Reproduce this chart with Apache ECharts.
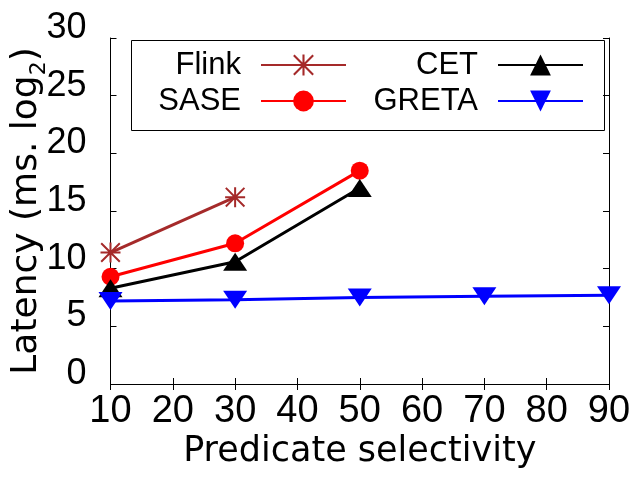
<!DOCTYPE html>
<html lang="en">
<head>
    <meta charset="UTF-8">
    <script src="https://cdn.jsdelivr.net/npm/echarts@6/dist/echarts.min.js"></script>
    <title>Latency vs predicate selectivity</title>
    <style>
        html, body { margin: 0; padding: 0; background: #fff; }
    </style>
</head>
<body>
<div id="main" style="width: 640px;height: 480px"></div>
<script type="text/javascript">
    // selectivity values on the x axis
    var selectivity = [10, 30, 50, 70, 90];

    // latency (ms, log2) per approach
    var flink = [11.4, 16.2];
    var sase = [9.3, 12.2, 18.5];
    var cet = [8.3, 10.6, 17.0];
    var greta = [7.2, 7.3, 7.5, 7.6, 7.7];

    var yTicks = {min: 0, max: 30, interval: 5};
    var xTicks = {min: 10, max: 90, interval: 10};

    // pair x values with a series
    function pairs(values) {
        return values.map(function (v, i) {
            return [selectivity[i], v];
        });
    }

    var starPath = 'path://M9 0H11V20H9Z M0 9H20V11H0Z ' +
        'M1.4 0L20 18.6L18.6 20L0 1.4Z M18.6 0L20 1.4L1.4 20L0 18.6Z';
    var downTriangle = 'path://M0 0L20 0L10 17Z';

    var labelFont = 'Liberation Sans';
    var titleFont = 'DejaVu Sans';

    var myChart = echarts.init(document.getElementById("main"));

    var hiddenAxis = {
        axisLine: {lineStyle: {color: '#000', width: 1}},
        axisTick: {inside: true, length: 6, lineStyle: {color: '#000'}},
        axisLabel: {show: false},
        splitLine: {show: false}
    };

    var legendText = {fontFamily: labelFont, fontSize: 31, color: '#000', lineHeight: 36, padding: [0, 15, 0, 0]};

    myChart.setOption({
        animation: false,
        grid: {left: 110.5, right: 31, top: 38, bottom: 96, outerBoundsMode: 'none', containLabel: false},
        legend: [{
            orient: 'vertical',
            align: 'right',
            right: 293,
            top: 47,
            padding: 0,
            itemGap: 0,
            itemWidth: 85,
            itemHeight: 26,
            selectedMode: false,
            textStyle: legendText,
            data: ['Flink', 'SASE']
        }, {
            orient: 'vertical',
            align: 'right',
            right: 56,
            top: 47,
            padding: 0,
            itemGap: 0,
            itemWidth: 85,
            itemHeight: 26,
            selectedMode: false,
            textStyle: legendText,
            data: ['CET', 'GRETA']
        }],
        graphic: [{
            type: 'rect',
            left: 129,
            top: 38,
            shape: {width: 473, height: 90},
            style: {fill: 'none', stroke: '#000', lineWidth: 1}
        }],
        xAxis: [{
            type: 'value',
            min: xTicks.min,
            max: xTicks.max,
            interval: xTicks.interval,
            name: 'Predicate selectivity',
            nameLocation: 'middle',
            nameGap: 50,
            nameMoveOverlap: false,
            nameTextStyle: {fontFamily: titleFont, fontSize: 35, color: '#000'},
            axisLine: {lineStyle: {color: '#000', width: 1}},
            axisTick: {inside: true, length: 6, lineStyle: {color: '#000'}},
            axisLabel: {fontFamily: labelFont, fontSize: 38, color: '#000', margin: 9},
            splitLine: {show: false}
        }, Object.assign({
            type: 'value',
            position: 'top',
            min: xTicks.min,
            max: xTicks.max,
            interval: xTicks.interval
        }, hiddenAxis)],
        yAxis: [{
            type: 'value',
            min: yTicks.min,
            max: yTicks.max,
            interval: yTicks.interval,
            name: 'Latency (ms. log{sub|2})',
            nameLocation: 'middle',
            nameGap: 60,
            nameMoveOverlap: false,
            nameTextStyle: {
                fontFamily: titleFont, fontSize: 36, color: '#000', lineHeight: 48,
                rich: {
                    sub: {fontFamily: titleFont, fontSize: 22, color: '#000', lineHeight: 22, verticalAlign: 'bottom'}
                }
            },
            axisLine: {lineStyle: {color: '#000', width: 1}},
            axisTick: {inside: true, length: 6, lineStyle: {color: '#000'}},
            axisLabel: {
                fontFamily: labelFont, fontSize: 36, color: '#000', margin: 24,
                verticalAlign: 'bottom', lineHeight: 20
            },
            splitLine: {show: false}
        }, Object.assign({
            type: 'value',
            position: 'right',
            min: yTicks.min,
            max: yTicks.max,
            interval: yTicks.interval
        }, hiddenAxis)],
        series: [{
            name: 'Flink',
            type: 'line',
            data: pairs(flink),
            symbol: starPath,
            symbolSize: 20,
            color: '#a52a2a',
            lineStyle: {width: 3}
        }, {
            name: 'SASE',
            type: 'line',
            data: pairs(sase),
            symbol: 'circle',
            symbolSize: 18,
            color: '#ff0000',
            lineStyle: {width: 3}
        }, {
            name: 'CET',
            type: 'line',
            data: pairs(cet),
            symbol: 'triangle',
            symbolSize: [24, 18],
            color: '#000000',
            lineStyle: {width: 3}
        }, {
            name: 'GRETA',
            type: 'line',
            data: pairs(greta),
            symbol: downTriangle,
            symbolSize: [24, 18],
            color: '#0000ff',
            lineStyle: {width: 3}
        }]
    });
</script>
</body>
</html>
